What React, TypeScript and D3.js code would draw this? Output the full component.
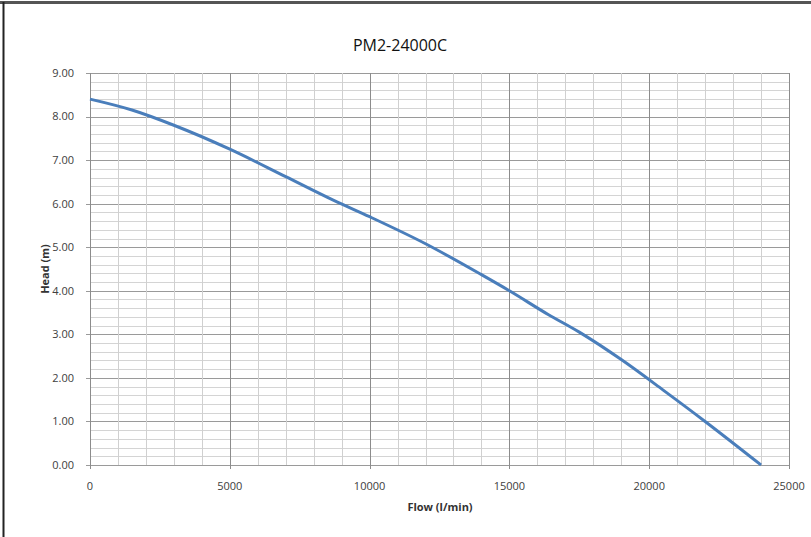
import React, { useEffect, useRef } from 'react';
import * as d3 from 'd3';

const title = 'PM2-24000C';
const flow = [0, 1500, 3000, 5000, 7000, 8700, 10000, 12000, 14000, 15000, 16400, 17500, 19000, 20500, 22000, 24000];
const head = [8.4, 8.15, 7.8, 7.25, 6.62, 6.08, 5.7, 5.08, 4.37, 4.0, 3.45, 3.05, 2.42, 1.72, 1.0, 0.0];
const xTicks = [0, 5000, 10000, 15000, 20000, 25000];
const yTicks = [0, 1, 2, 3, 4, 5, 6, 7, 8, 9];

const W = 811;
const H = 537;
const FONT = '"Open Sans", "DejaVu Sans", sans-serif';

const App: React.FC = () => {
  const svgRef = useRef<SVGSVGElement>(null);

  useEffect(() => {
    if (!svgRef.current) return;
    const svg = d3.select(svgRef.current);
    svg.selectAll('*').remove();

    const x = d3.scaleLinear().domain([0, 25000]).range([90, 789]);
    const y = d3.scaleLinear().domain([0, 9]).range([465, 73]);

    svg.append('rect').attr('width', W).attr('height', H).attr('fill', '#fff');

    // outer frame (top + left visible)
    svg.append('line').attr('x1', 0).attr('x2', W).attr('y1', 2.5).attr('y2', 2.5)
      .attr('stroke', '#555').attr('stroke-width', 3);
    svg.append('line').attr('x1', 3.5).attr('x2', 3.5).attr('y1', 2).attr('y2', H)
      .attr('stroke', '#222').attr('stroke-width', 2);

    const grid = svg.append('g');
    // horizontal every 0.2
    d3.range(0, 9.001, 0.2).forEach(v => {
      const major = Math.abs(v - Math.round(v)) < 1e-6;
      grid.append('line')
        .attr('x1', major ? x(0) - 4 : x(0)).attr('x2', x(25000))
        .attr('y1', Math.round(y(v)) + 0.5).attr('y2', Math.round(y(v)) + 0.5)
        .attr('stroke', major ? '#9a9a9a' : '#d4d4d4')
        .attr('stroke-width', major ? 1.2 : 1);
    });
    // vertical every 1000
    d3.range(0, 25001, 1000).forEach(v => {
      const major = v % 5000 === 0;
      grid.append('line')
        .attr('x1', Math.round(x(v)) + 0.5).attr('x2', Math.round(x(v)) + 0.5)
        .attr('y1', y(9)).attr('y2', major ? y(0) + 4 : y(0))
        .attr('stroke', major ? '#8c8c8c' : '#d0d0d0')
        .attr('stroke-width', 1);
    });

    // y tick labels
    svg.append('g').selectAll('text').data(yTicks).enter().append('text')
      .attr('x', 74).attr('y', d => y(d)).attr('dy', '0.35em')
      .attr('text-anchor', 'end')
      .attr('font-family', FONT).attr('font-size', 11).attr('fill', '#404040')
      .text(d => d3.format('.2f')(d));

    // x tick labels
    svg.append('g').selectAll('text').data(xTicks).enter().append('text')
      .attr('x', d => x(d)).attr('y', 490)
      .attr('text-anchor', 'middle')
      .attr('font-family', FONT).attr('font-size', 11).attr('fill', '#404040')
      .text(d => String(d));

    // curve
    const line = d3.line<number>()
      .x((d, i) => x(flow[i]))
      .y(d => y(d))
      .curve(d3.curveMonotoneX);
    svg.append('path')
      .attr('d', line(head) as string)
      .attr('fill', 'none')
      .attr('stroke', '#4a7ebb')
      .attr('stroke-width', 3)
      .attr('stroke-linejoin', 'round');

    // titles
    svg.append('text')
      .attr('x', 400).attr('y', 51)
      .attr('text-anchor', 'middle')
      .attr('font-family', FONT).attr('font-size', 16).attr('fill', '#111')
      .text(title);
    svg.append('text')
      .attr('x', 440).attr('y', 511)
      .attr('text-anchor', 'middle')
      .attr('font-family', FONT).attr('font-size', 11).attr('font-weight', 'bold').attr('fill', '#333')
      .text('Flow (l/min)');
    svg.append('text')
      .attr('transform', `translate(49, ${y(4.5)}) rotate(-90)`)
      .attr('text-anchor', 'middle')
      .attr('font-family', FONT).attr('font-size', 11).attr('font-weight', 'bold').attr('fill', '#333')
      .text('Head (m)');
  }, []);

  return (
    <div style={{ position: 'fixed', left: 0, top: 0, width: W, height: H }}>
      <svg ref={svgRef} width={W} height={H} />
    </div>
  );
};

export default App;
